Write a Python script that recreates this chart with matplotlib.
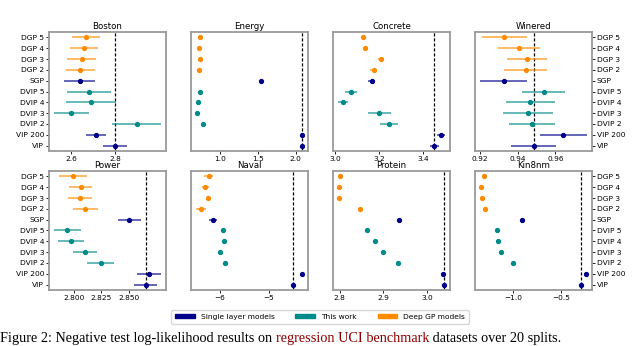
import matplotlib
matplotlib.use("Agg")
import matplotlib.pyplot as plt
from matplotlib.patches import Patch

# model names, bottom to top
models = ["VIP", "VIP 200", "DVIP 2", "DVIP 3", "DVIP 4", "DVIP 5",
          "SGP", "DGP 2", "DGP 3", "DGP 4", "DGP 5"]
groups = ["single", "single", "work", "work", "work", "work",
          "single", "deep", "deep", "deep", "deep"]

datasets = ["Boston", "Energy", "Concrete", "Winered",
            "Power", "Naval", "Protein", "Kin8nm"]

# mean negative test log-likelihood (same order as models)
boston_mean = [2.797, 2.712, 2.897, 2.600, 2.691, 2.680, 2.638, 2.641, 2.647, 2.656, 2.668]
boston_err = [0.055, 0.044, 0.110, 0.078, 0.114, 0.100, 0.070, 0.067, 0.066, 0.064, 0.064]

energy_mean = [2.080, 2.080, 0.763, 0.692, 0.700, 0.732, 1.545, 0.719, 0.732, 0.719, 0.723]
energy_err = [0.012, 0.012, 0.015, 0.012, 0.012, 0.012, 0.015, 0.012, 0.012, 0.012, 0.012]

concrete_mean = [3.451, 3.480, 3.245, 3.202, 3.036, 3.072, 3.167, 3.175, 3.208, 3.138, 3.129]
concrete_err = [0.021, 0.018, 0.042, 0.051, 0.021, 0.027, 0.015, 0.015, 0.013, 0.012, 0.013]

winered_mean = [0.9484, 0.9642, 0.9477, 0.9454, 0.9468, 0.9537, 0.9326, 0.9442, 0.9449, 0.9407, 0.9330]
winered_err = [0.0119, 0.0123, 0.0121, 0.0132, 0.0131, 0.0114, 0.0123, 0.0112, 0.0107, 0.0110, 0.0120]

power_mean = [2.8649, 2.8679, 2.8244, 2.8101, 2.7973, 2.7943, 2.8503, 2.8104, 2.8054, 2.8063, 2.7994]
power_err = [0.0107, 0.0107, 0.0120, 0.0110, 0.0116, 0.0119, 0.0107, 0.0113, 0.0107, 0.0104, 0.0128]

naval_mean = [-4.507, -4.324, -5.899, -6.000, -5.912, -5.932, -6.135, -6.372, -6.230, -6.290, -6.223]
naval_err = [0.01, 0.01, 0.02, 0.02, 0.02, 0.02, 0.080, 0.100, 0.047, 0.068, 0.088]

protein_mean = [3.039, 3.037, 2.933, 2.900, 2.881, 2.862, 2.937, 2.846, 2.799, 2.7985, 2.8015]
protein_err = [0.002, 0.002, 0.002, 0.002, 0.002, 0.002, 0.002, 0.002, 0.002, 0.002, 0.002]

kin8nm_mean = [-0.288, -0.236, -1.000, -1.128, -1.156, -1.167, -0.910, -1.299, -1.330, -1.340, -1.306]
kin8nm_err = [0.005, 0.005, 0.005, 0.005, 0.005, 0.005, 0.005, 0.005, 0.005, 0.005, 0.005]

xticks = {
    "Boston": [2.6, 2.8],
    "Energy": [1.0, 1.5, 2.0],
    "Concrete": [3.0, 3.2, 3.4],
    "Winered": [0.92, 0.94, 0.96],
    "Power": [2.800, 2.825, 2.850],
    "Naval": [-6, -5],
    "Protein": [2.8, 2.9, 3.0],
    "Kin8nm": [-1.0, -0.5],
}

caption_parts = [("Figure 2: Negative test log-likelihood results on ", "black"),
                 ("regression UCI benchmark", "#8b0000"),
                 (" datasets over 20 splits.", "black")]

means = [boston_mean, energy_mean, concrete_mean, winered_mean,
         power_mean, naval_mean, protein_mean, kin8nm_mean]
errs = [boston_err, energy_err, concrete_err, winered_err,
        power_err, naval_err, protein_err, kin8nm_err]

colors = {"single": "#00008b", "work": "#008b8b", "deep": "#ff8c00"}
legend_names = {"single": "Single layer models", "work": "This work", "deep": "Deep GP models"}

fig = plt.figure(figsize=(6.4, 3.46), dpi=100)

W, H = 640.0, 346.0
lefts = [49, 191, 333, 475]
bottoms = [151, 290]
aw, ah = 117, 119

for i, name in enumerate(datasets):
    row, col = divmod(i, 4)
    ax = fig.add_axes([lefts[col] / W, 1 - bottoms[row] / H, aw / W, ah / H])
    m, e = means[i], errs[i]
    for j in range(len(models)):
        c = colors[groups[j]]
        ax.errorbar(m[j], j, xerr=e[j], fmt="o", color=c, ecolor=c,
                    elinewidth=1.3, markersize=2.8, capsize=0)
        ax.lines[-1].set_zorder(3)
    # error bar lines a bit lighter
    for coll in ax.collections:
        coll.set_alpha(0.65)
    ax.axvline(m[0], color="k", ls=(0, (2.5, 1.5)), lw=0.9, zorder=1)
    ax.set_ylim(-0.5, len(models) - 0.5)
    ax.set_xticks(xticks[name])
    ax.set_title(name, fontsize=6.2, pad=2)
    ax.tick_params(axis="x", labelsize=5.3, length=2, width=0.6, pad=1.5)
    ax.set_yticks(range(len(models)))
    ax.set_yticklabels(models)
    if col == 0:
        ax.tick_params(axis="y", labelsize=5.4, length=2, width=0.6, pad=1.5)
    elif col == 3:
        ax.yaxis.tick_right()
        ax.tick_params(axis="y", labelsize=5.4, length=2, width=0.6, pad=1.5)
    else:
        ax.tick_params(axis="y", left=False, labelleft=False)
    for sp in ax.spines.values():
        sp.set_color("#9a9a9a")
        sp.set_linewidth(1.3)

handles = [Patch(color=colors[g], label=legend_names[g]) for g in ["single", "work", "deep"]]
fig.legend(handles=handles, loc="center", bbox_to_anchor=(0.5, 1 - 317 / H), ncol=3,
           fontsize=5.4, handlelength=2.6, handleheight=0.5, columnspacing=2.8,
           frameon=True, edgecolor="#cccccc", borderpad=0.5)

# caption from the paper, pieces placed one after another
renderer = fig.canvas.get_renderer()
x = 0.0
cap_y = 1 - 342 / H
for txt, c in caption_parts:
    t = fig.text(x, cap_y, txt, family="Liberation Serif", fontsize=10.3,
                 va="baseline", color=c)
    bb = t.get_window_extent(renderer)
    x = bb.x1 / fig.bbox.width

fig.savefig("out.png", dpi=100)
